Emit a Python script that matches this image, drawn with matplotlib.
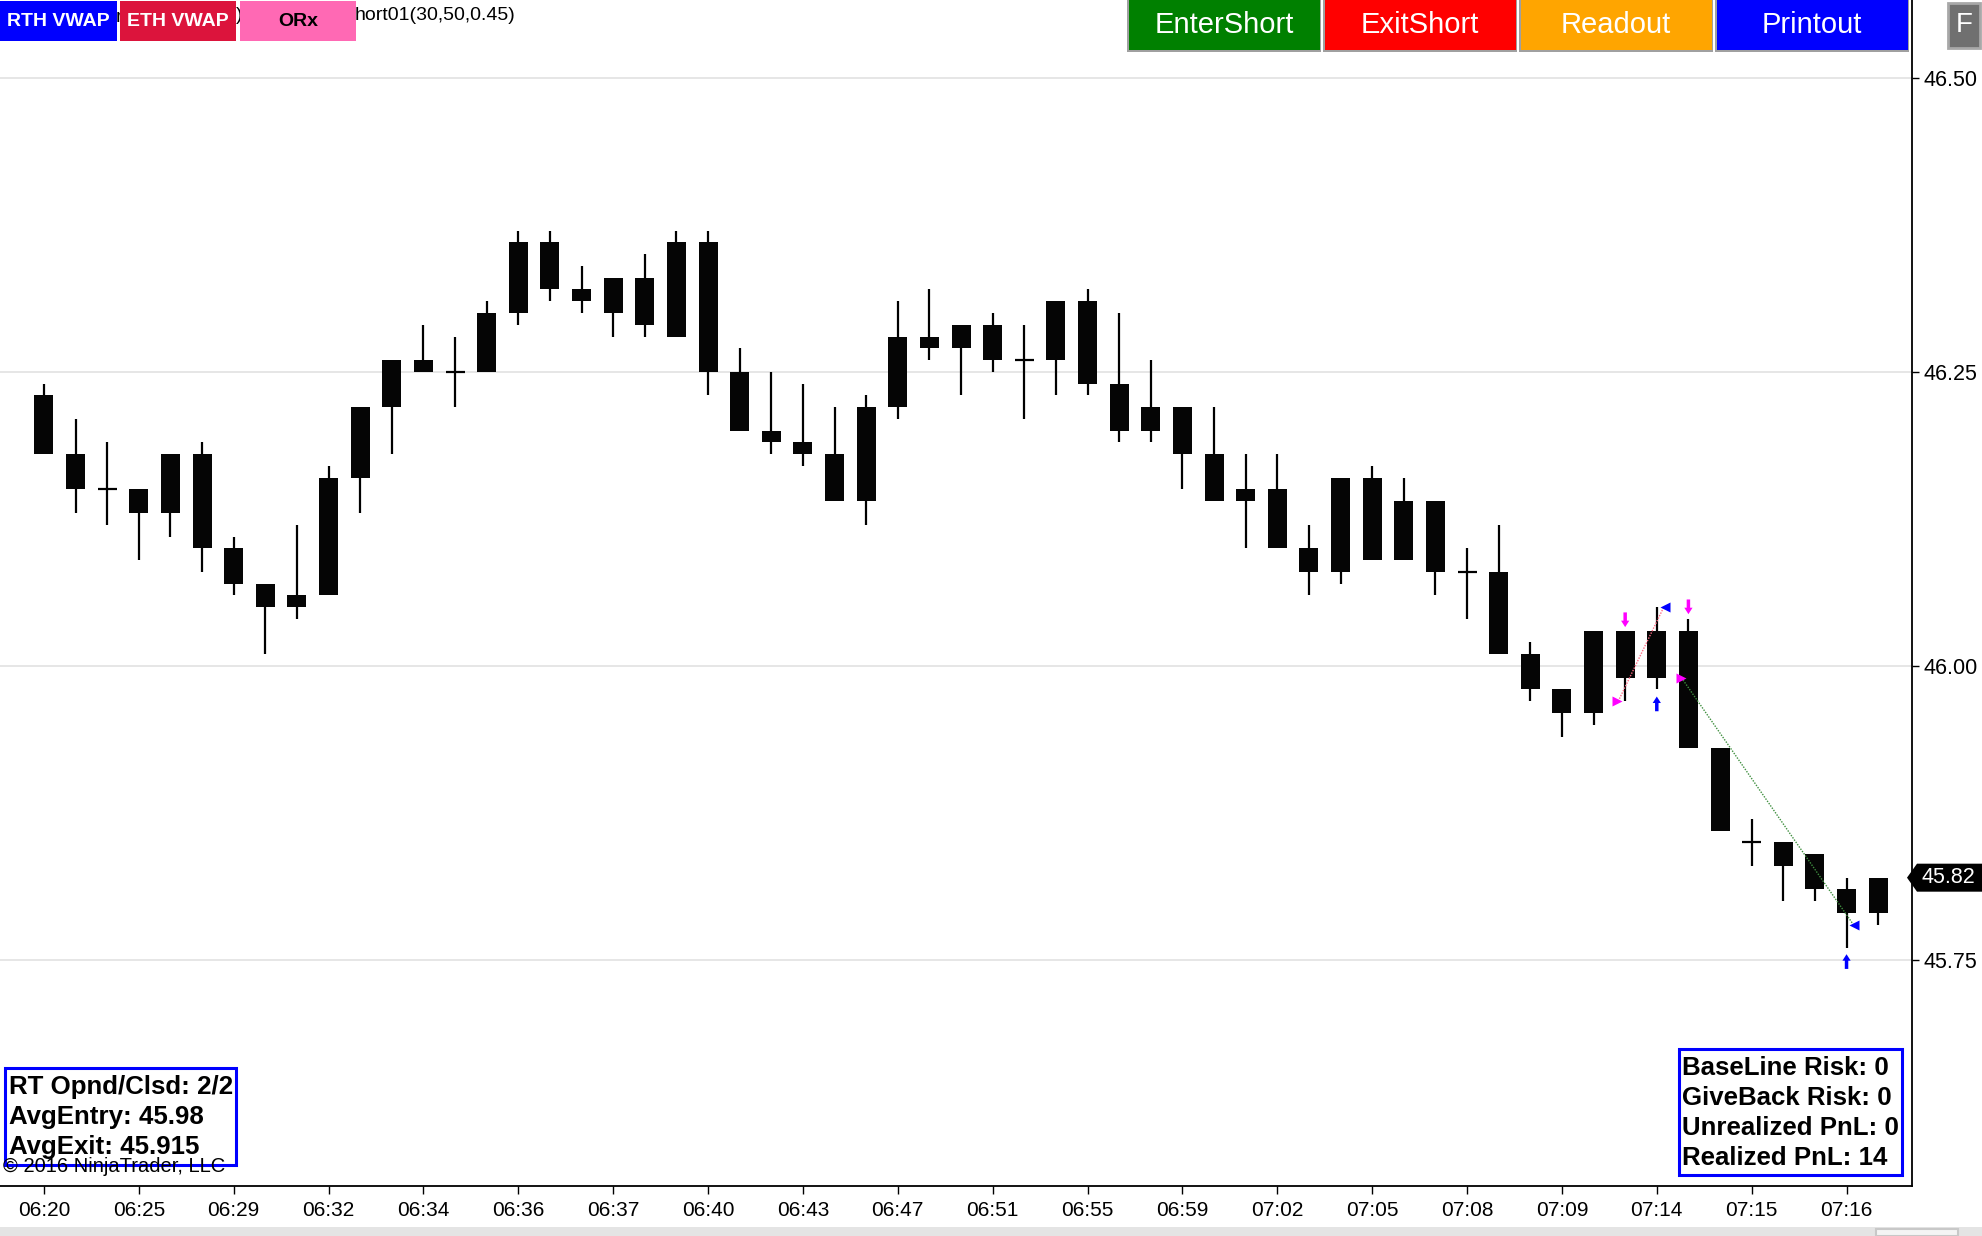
import matplotlib
matplotlib.use("Agg")
import matplotlib.pyplot as plt
from matplotlib.patches import Rectangle, Polygon

plt.rcParams['font.family'] = ['Liberation Sans', 'DejaVu Sans']

# one-minute-ish bars (tick chart)
time_labels = ["06:20", "06:25", "06:29", "06:32", "06:34", "06:36", "06:37",
               "06:40", "06:43", "06:47", "06:51", "06:55", "06:59", "07:02",
               "07:05", "07:08", "07:09", "07:14", "07:15", "07:16"]

opens = [46.23, 46.18, 46.15, 46.15, 46.13, 46.18, 46.10, 46.07, 46.05, 46.06,
         46.16, 46.22, 46.26, 46.25, 46.25, 46.30, 46.36, 46.32, 46.30, 46.33,
         46.28, 46.36, 46.25, 46.20, 46.19, 46.18, 46.14, 46.22, 46.28, 46.27,
         46.29, 46.26, 46.26, 46.31, 46.24, 46.20, 46.22, 46.18, 46.14, 46.15,
         46.10, 46.08, 46.16, 46.09, 46.14, 46.08, 46.08, 46.01, 45.98, 45.96,
         46.03, 45.99, 46.03, 45.93, 45.85, 45.85, 45.84, 45.81, 45.79]
highs = [46.24, 46.21, 46.19, 46.15, 46.18, 46.19, 46.11, 46.07, 46.12, 46.17,
         46.22, 46.26, 46.29, 46.28, 46.31, 46.37, 46.37, 46.34, 46.33, 46.35,
         46.37, 46.37, 46.27, 46.25, 46.24, 46.22, 46.23, 46.31, 46.32, 46.29,
         46.30, 46.29, 46.31, 46.32, 46.30, 46.26, 46.22, 46.22, 46.18, 46.18,
         46.12, 46.16, 46.17, 46.16, 46.14, 46.10, 46.12, 46.02, 45.98, 46.03,
         46.03, 46.05, 46.04, 45.93, 45.87, 45.85, 45.84, 45.82, 45.82]
lows = [46.18, 46.13, 46.12, 46.09, 46.11, 46.08, 46.06, 46.01, 46.04, 46.06,
        46.13, 46.18, 46.25, 46.22, 46.25, 46.29, 46.31, 46.30, 46.28, 46.28,
        46.28, 46.23, 46.20, 46.18, 46.17, 46.14, 46.12, 46.21, 46.26, 46.23,
        46.25, 46.21, 46.23, 46.23, 46.19, 46.19, 46.15, 46.14, 46.10, 46.10,
        46.06, 46.07, 46.09, 46.09, 46.06, 46.04, 46.01, 45.97, 45.94, 45.95,
        45.97, 45.98, 45.93, 45.86, 45.83, 45.80, 45.80, 45.76, 45.78]
closes = [46.18, 46.15, 46.15, 46.13, 46.18, 46.10, 46.07, 46.05, 46.06, 46.16,
          46.22, 46.26, 46.25, 46.25, 46.30, 46.36, 46.32, 46.31, 46.33, 46.29,
          46.36, 46.25, 46.20, 46.19, 46.18, 46.14, 46.22, 46.28, 46.27, 46.29,
          46.26, 46.26, 46.31, 46.24, 46.20, 46.22, 46.18, 46.14, 46.15, 46.10,
          46.08, 46.16, 46.09, 46.14, 46.08, 46.08, 46.01, 45.98, 45.96, 46.03,
          45.99, 46.03, 45.93, 45.86, 45.85, 45.83, 45.81, 45.79, 45.82]

# trades: short entries and exits (bar index, price)
entry_bars = [50, 52]
entry_prices = [45.97, 45.99]
exit_bars = [51, 57]
exit_prices = [46.05, 45.78]
trade_colors = ['#ff6a84', '#3f8f3f']
# signal arrows (tip price)
sell_arrow_bars = [50, 52]
sell_arrow_tips = [46.033, 46.044]
cover_arrow_bars = [51, 57]
cover_arrow_tips = [45.974, 45.755]

y_ticks = [45.75, 46.00, 46.25, 46.50]
last_price = 45.82

W, H = 1983, 1236
fig = plt.figure(figsize=(W / 100, H / 100), dpi=100)
fig.patch.set_facecolor('white')


def fx(px):
    return px / W


def fy(py):
    return 1 - py / H


ax = fig.add_axes([0, fy(1186), fx(1912), 1186 / H])
ax.set_facecolor('white')

n = len(opens)
xs = list(range(n))
body_w = 0.6

# wicks
ax.vlines(xs, lows, highs, color='black', lw=1.6, zorder=3)
# bodies
for i in xs:
    o, c = opens[i], closes[i]
    if o == c:
        ax.hlines(o, i - body_w / 2, i + body_w / 2, color='black', lw=1.6, zorder=3)
    else:
        ax.bar(i, abs(c - o), bottom=min(o, c), width=body_w, color='#050505',
               edgecolor='none', zorder=3)

# trade lines + execution triangles
for eb, ep, xb, xp, col in zip(entry_bars, entry_prices, exit_bars, exit_prices, trade_colors):
    ax.plot([eb - 0.22, xb + 0.22], [ep, xp], ls=(0, (1, 1)), lw=1.0, color=col, zorder=4)
    ax.plot(eb - 0.25, ep, marker='>', color='#ff00ff', ms=7, mec='none', zorder=5)
    ax.plot(xb + 0.25, xp, marker='<', color='#0000ff', ms=7, mec='none', zorder=5)


def arrow(xc, tip, direction, color):
    # direction -1 = pointing down, +1 = pointing up
    hw, sw = 0.13, 0.055      # half widths (bars)
    hh, total = 0.0055, 0.0125  # head height, full length (price)
    base = tip - direction * hh
    tail = tip - direction * total
    pts = [(xc, tip), (xc + hw, base), (xc + sw, base), (xc + sw, tail),
           (xc - sw, tail), (xc - sw, base), (xc - hw, base)]
    ax.add_patch(Polygon(pts, closed=True, facecolor=color, edgecolor='none', zorder=6))


for b, tip in zip(sell_arrow_bars, sell_arrow_tips):
    arrow(b, tip, -1, '#ff00ff')
for b, tip in zip(cover_arrow_bars, cover_arrow_tips):
    arrow(b, tip, 1, '#0000ff')

ax.set_xlim(-1.39, 59.07)
ax.set_ylim(45.558, 46.566)

ax.set_xticks(xs[::3])
ax.set_xticklabels(time_labels, fontsize=15)
ax.set_yticks(y_ticks)
ax.set_yticklabels([f"{v:.2f}" for v in y_ticks], fontsize=15.5)
ax.yaxis.tick_right()
ax.tick_params(axis='x', direction='out', length=6, width=1, pad=5)
ax.tick_params(axis='y', direction='out', length=5, width=1, pad=3)
ax.grid(axis='y', color='#e2e2e2', lw=1.2, zorder=0)
ax.set_axisbelow(True)
for s in ['left', 'top']:
    ax.spines[s].set_visible(False)
ax.spines['right'].set_linewidth(1.3)
ax.spines['bottom'].set_linewidth(1.3)


def box(x0, y0, x1, y1, fc, ec='none', lw=0.0, z=10):
    r = Rectangle((fx(x0), fy(y1)), fx(x1) - fx(x0), fy(y0) - fy(y1),
                  transform=fig.transFigure, facecolor=fc, edgecolor=ec, lw=lw, zorder=z)
    fig.add_artist(r)


# indicator label hidden behind the top-left buttons
fig.text(fx(355), fy(15), "hort01(30,50,0.45)", fontsize=14, va='center', ha='left', zorder=5)
fig.text(fx(116), fy(18), "r", fontsize=14, va='center', ha='left', zorder=5)
fig.text(fx(236), fy(15), ")", fontsize=14, va='center', ha='left', zorder=5)

# top-left buttons
for x0, x1, col, label, tcol in [(0, 117, '#0000ff', 'RTH VWAP', 'white'),
                                  (120, 236, '#dc143c', 'ETH VWAP', 'white'),
                                  (240, 356, '#ff69b4', 'ORx', 'black')]:
    box(x0, 1, x1, 41, col)
    fig.text(fx((x0 + x1) / 2), fy(22), label, fontsize=14, fontweight='bold',
             color=tcol, ha='center', va='center', zorder=11)

# top-right buttons
for x0, x1, col, label in [(1127, 1321, '#008000', 'EnterShort'),
                           (1323, 1517, '#ff0000', 'ExitShort'),
                           (1519, 1713, '#ffa500', 'Readout'),
                           (1715, 1909, '#0000ff', 'Printout')]:
    box(x0, 0, x1, 52, '#a0a0a0')
    box(x0 + 2, 0, x1 - 1, 50, col, z=11)
    fig.text(fx((x0 + x1) / 2), fy(25), label, fontsize=21, color='white',
             ha='center', va='center', zorder=12)

# F button
box(1948, 3, 1980, 48, '#707070', ec='#a8a8a8', lw=2)
fig.text(fx(1964), fy(25), "F", fontsize=20, color='white', ha='center', va='center', zorder=12)

# last price marker
yp = 78 + (46.5 - last_price) * 1176
poly = Polygon([(fx(1907), fy(yp)), (fx(1917), fy(yp - 14)), (fx(1983), fy(yp - 14)),
                (fx(1983), fy(yp + 14)), (fx(1917), fy(yp + 14))],
               closed=True, transform=fig.transFigure, facecolor='black', edgecolor='none', zorder=10)
fig.add_artist(poly)
fig.text(fx(1948), fy(yp), f"{last_price:.2f}", fontsize=15.5, color='white',
         ha='center', va='center', zorder=11)

# stats boxes
box(5, 1068, 236, 1165, 'none', ec='#0000ff', lw=2.2, z=9)
for ty, line in zip([1087, 1117, 1147], ["RT Opnd/Clsd: 2/2", "AvgEntry: 45.98", "AvgExit: 45.915"]):
    fig.text(fx(9), fy(ty), line, fontsize=18.6, fontweight='bold', ha='left', va='center', zorder=10)
fig.text(fx(3), fy(1167), "\u00a9 2016 NinjaTrader, LLC", fontsize=14.5, ha='left', va='center', zorder=10)

box(1679, 1049, 1902, 1175, 'none', ec='#0000ff', lw=2.2, z=9)
for ty, line in zip([1068, 1098, 1128, 1158],
                    ["BaseLine Risk: 0", "GiveBack Risk: 0", "Unrealized PnL: 0", "Realized PnL: 14"]):
    fig.text(fx(1682), fy(ty), line, fontsize=18.6, fontweight='bold', ha='left', va='center', zorder=10)

# bottom scroll strip
box(0, 1227, W, H, '#e4e4e4', z=8)
box(1876, 1229, 1958, H, '#f4f4f4', ec='#c8c8c8', lw=1.5, z=9)

fig.savefig("out.png", dpi=100)
